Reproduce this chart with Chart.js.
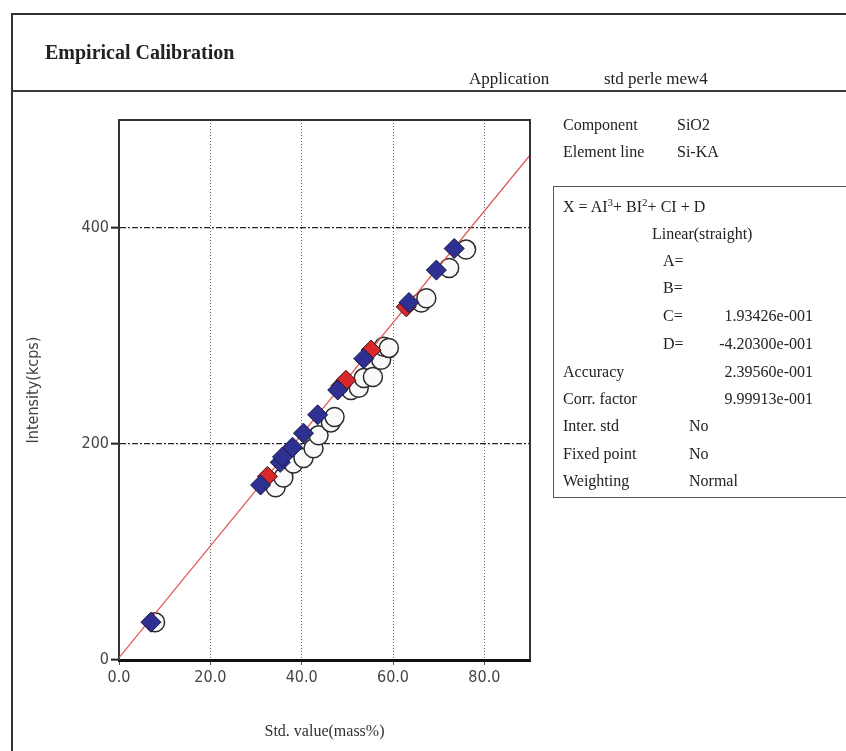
<!DOCTYPE html>
<html>
<head>
<meta charset="utf-8">
<script src="https://cdn.jsdelivr.net/npm/chart.js@4.4.1/dist/chart.umd.min.js"></script>
<style>
  body { margin: 0; background: #fff; }
  #wrap { position: relative; width: 846px; height: 751px; overflow: hidden;
          font-family: "Liberation Serif", "DejaVu Serif", serif; color: #222; }
  #chart { position: absolute; left: 0; top: 0; }
  .frame { position: absolute; left: 11px; top: 13px; width: 900px; height: 800px;
           border-left: 2px solid #333; border-top: 2px solid #333; }
  .sep { position: absolute; left: 11px; top: 90px; width: 900px; border-top: 2px solid #3a3a3a; }
  .t { position: absolute; white-space: nowrap; line-height: 1; font-size: 16px;
       transform: translateY(-50%); }
  .r { transform: translate(-100%, -50%); }
  .box { position: absolute; left: 553px; top: 186px; width: 320px; height: 310px;
         border: 1.5px solid #555; }
  sup { font-size: 11px; vertical-align: 6px; line-height: 0; }
</style>
</head>
<body>
<div id="wrap">
  <div class="frame"></div>
  <div class="sep"></div>
  <div class="box"></div>
  <canvas id="chart" width="846" height="751"></canvas>

  <div class="t" style="left:45px;top:52px;font-size:20px;font-weight:bold;">Empirical Calibration</div>
  <div class="t" style="left:469px;top:78px;font-size:17px;">Application</div>
  <div class="t" style="left:604px;top:78px;font-size:17px;">std perle mew4</div>

  <div class="t" style="left:563px;top:125px;">Component</div>
  <div class="t" style="left:677px;top:125px;">SiO2</div>
  <div class="t" style="left:563px;top:152px;">Element line</div>
  <div class="t" style="left:677px;top:152px;">Si-KA</div>

  <div class="t" style="left:563px;top:207px;">X = AI<sup>3</sup>+ BI<sup>2</sup>+ CI + D</div>
  <div class="t" style="left:652px;top:234px;">Linear(straight)</div>
  <div class="t" style="left:663px;top:261px;">A=</div>
  <div class="t" style="left:663px;top:288px;">B=</div>
  <div class="t" style="left:663px;top:316px;">C=</div>
  <div class="t r" style="left:813px;top:316px;" id="valC"></div>
  <div class="t" style="left:663px;top:344px;">D=</div>
  <div class="t r" style="left:813px;top:344px;" id="valD"></div>
  <div class="t" style="left:563px;top:372px;">Accuracy</div>
  <div class="t r" style="left:813px;top:372px;" id="valAcc"></div>
  <div class="t" style="left:563px;top:399px;">Corr. factor</div>
  <div class="t r" style="left:813px;top:399px;" id="valCorr"></div>
  <div class="t" style="left:563px;top:426px;">Inter. std</div>
  <div class="t" style="left:689px;top:426px;">No</div>
  <div class="t" style="left:563px;top:454px;">Fixed point</div>
  <div class="t" style="left:689px;top:454px;">No</div>
  <div class="t" style="left:563px;top:481px;">Weighting</div>
  <div class="t" style="left:689px;top:481px;">Normal</div>
</div>

<script>
// Calibration coefficients: X = C*I + D  (X = std value, I = intensity)
const coefC = "1.93426e-001";
const coefD = "-4.20300e-001";
const accuracy = "2.39560e-001";
const corrFactor = "9.99913e-001";

// Standards, drawn as blue diamonds
const blueStd = [7.0, 31.0, 35.3, 35.8, 38.0, 40.4, 43.5, 47.9, 53.6, 63.5, 69.5, 73.4];
const blueInt = [35, 162, 183, 188, 197, 210, 227, 250, 279, 331, 361, 381];

// Standards, drawn as red diamonds
const redStd = [32.5, 48.6, 49.7, 55.2, 62.9];
const redInt = [170, 254, 259, 287, 327];

// Open circles
const circStd = [7.9, 34.3, 36.0, 38.2, 40.4, 42.6, 43.7, 46.4, 47.2, 50.8, 52.5, 53.6, 55.6, 57.4, 58.0, 59.1, 66.2, 67.3, 72.3, 76.0];
const circInt = [35, 160, 169, 182, 187, 196, 208, 220, 225, 250, 252, 261, 262, 278, 290, 289, 331, 335, 363, 380];

// Axis ranges and tick steps
const xRange = [0, 90];
const yRange = [0, 500];
const xStep = 20;
const yStep = 200;

document.getElementById('valC').textContent = coefC;
document.getElementById('valD').textContent = coefD;
document.getElementById('valAcc').textContent = accuracy;
document.getElementById('valCorr').textContent = corrFactor;

const pairs = (xs, ys) => xs.map((x, i) => ({ x, y: ys[i] }));

// Calibration line through the axis range, from the stated coefficients
const C = parseFloat(coefC), D = parseFloat(coefD);
const fitLine = xRange.map(x => ({ x, y: (x - D) / C }));

const tickFont = { family: '"Liberation Sans Narrow", "DejaVu Sans Condensed", "Liberation Sans", sans-serif', size: 16 };

// Top and right edges of the plot frame
const plotFrame = {
  id: 'plotFrame',
  afterDatasetsDraw(chart) {
    const { ctx, chartArea: a } = chart;
    ctx.save();
    ctx.strokeStyle = '#333';
    ctx.lineWidth = 2;
    ctx.beginPath();
    ctx.moveTo(a.left, a.top);
    ctx.lineTo(a.right, a.top);
    ctx.lineTo(a.right, a.bottom);
    ctx.stroke();
    ctx.restore();
  }
};

new Chart(document.getElementById('chart'), {
  type: 'scatter',
  data: {
    datasets: [
      { label: 'Circles', data: pairs(circStd, circInt), pointStyle: 'circle', pointRadius: 9.5,
        backgroundColor: '#fafafa', borderColor: '#2a2a2a', borderWidth: 1.5, order: 4 },
      { type: 'line', label: 'Calibration', data: fitLine, borderColor: '#e05550', borderWidth: 1.3,
        pointRadius: 0, fill: false, order: 3 },
      { label: 'Red', data: pairs(redStd, redInt), pointStyle: 'rectRot', pointRadius: 10,
        backgroundColor: '#d8282a', borderColor: '#3a1414', borderWidth: 1, order: 2 },
      { label: 'Blue', data: pairs(blueStd, blueInt), pointStyle: 'rectRot', pointRadius: 10,
        backgroundColor: '#2e3192', borderColor: '#15163f', borderWidth: 1, order: 1 }
    ]
  },
  options: {
    responsive: false,
    animation: false,
    devicePixelRatio: 1,
    layout: { padding: { left: 0, top: 120, right: 316, bottom: 0 } },
    plugins: { legend: { display: false }, tooltip: { enabled: false } },
    scales: {
      x: {
        type: 'linear', min: xRange[0], max: xRange[1],
        afterFit(s) { s.height = 91; },
        ticks: { stepSize: xStep, includeBounds: false, color: '#444', font: tickFont, padding: 3,
                 callback: v => v.toFixed(1) },
        grid: { color: c => c.tick && c.tick.value === 0 ? 'rgba(0,0,0,0)' : '#666',
                lineWidth: 1, drawTicks: true, tickLength: 5,
                tickColor: '#555', tickWidth: 1, tickBorderDash: [] },
        border: { display: true, color: '#111', width: 3, dash: [1, 2] },
        title: { display: true, text: 'Std. value(mass%)', color: '#333',
                 font: { family: '"Liberation Serif", serif', size: 16 }, padding: { top: 0, bottom: 10 } }
      },
      y: {
        type: 'linear', min: yRange[0], max: yRange[1],
        afterFit(s) { s.width = 119; },
        ticks: { stepSize: yStep, includeBounds: false, color: '#444', font: tickFont, padding: 2 },
        grid: { color: c => c.tick && c.tick.value === 0 ? 'rgba(0,0,0,0)' : '#222',
                lineWidth: 1.3, drawTicks: true, tickLength: 8,
                tickColor: '#222', tickWidth: 2, tickBorderDash: [] },
        border: { display: true, color: '#333', width: 2, dash: [6, 2, 2, 2] },
        title: { display: true, text: 'Intensity(kcps)', color: '#444',
                 font: tickFont, padding: { top: 24, bottom: 0 } }
      }
    }
  },
  plugins: [plotFrame]
});
</script>
</body>
</html>
